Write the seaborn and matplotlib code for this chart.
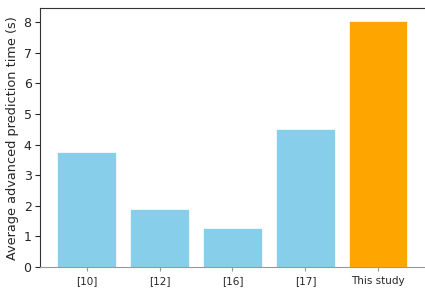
import matplotlib
matplotlib.use("Agg")
import matplotlib.pyplot as plt
import seaborn as sns
import pandas as pd

categories = ["[10]", "[12]", "[16]", "[17]", "This study"]
values = [3.75, 1.91, 1.29, 4.52, 8.04]
colors = ["skyblue", "skyblue", "skyblue", "skyblue", "orange"]

sns.set_style("ticks")
plt.rcParams['font.family'] = ['DejaVu Sans']

df = pd.DataFrame({"cat": categories, "val": values})
fig = plt.figure(figsize=(4.25, 2.9), dpi=100)
ax = fig.add_axes([0.094, 0.079, 0.906, 0.893])
sns.barplot(data=df, x="cat", y="val", hue="cat", palette=colors, legend=False,
            ax=ax, width=0.8, saturation=1, edgecolor="white", linewidth=0.5)
ax.set_xlim(-0.64, 4.64)
ax.set_ylim(0, 8.45)
ax.set_xlabel("")
ax.set_ylabel("Average advanced prediction time (s)", fontsize=9.3, labelpad=3)
ax.tick_params(axis="y", labelsize=9, length=3.5, pad=2.5)
ax.tick_params(axis="x", labelsize=7.5, length=3, color="#999999")
ax.spines["right"].set_visible(False)
ax.spines["bottom"].set_color("#999999")
ax.spines["top"].set_color("#333333")
ax.spines["left"].set_color("#333333")
fig.savefig("out.png", dpi=100)
